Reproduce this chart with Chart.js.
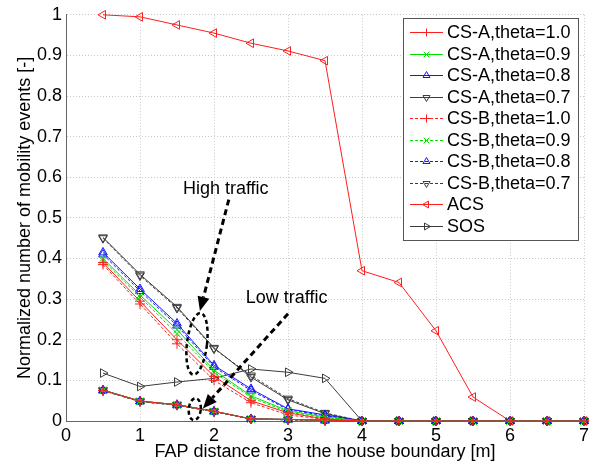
<!DOCTYPE html>
<html>
<head>
<meta charset="utf-8">
<script src="https://cdn.jsdelivr.net/npm/chart.js@4/dist/chart.umd.min.js"></script>
<style>
  html, body { margin: 0; padding: 0; background: #fff; }
  #wrap { width: 596px; height: 465px; }
</style>
</head>
<body>
<div id="wrap"><canvas id="myChart" width="596" height="465"></canvas></div>
<script>
// distances [m]
const distances = [0.5, 1, 1.5, 2, 2.5, 3, 3.5, 4, 4.5, 5, 5.5, 6, 6.5, 7];

// high traffic curves
const csA10 = [0.39, 0.295, 0.20, 0.11, 0.05, 0.02, 0.005, 0, 0, 0, 0, 0, 0, 0];
const csA09 = [0.40, 0.31, 0.225, 0.125, 0.062, 0.025, 0.01, 0, 0, 0, 0, 0, 0, 0];
const csA08 = [0.415, 0.325, 0.24, 0.137, 0.079, 0.03, 0.015, 0, 0, 0, 0, 0, 0, 0];
const csA07 = [0.452, 0.361, 0.281, 0.18, 0.108, 0.052, 0.018, 0, 0, 0, 0, 0, 0, 0];
const csB10 = [0.385, 0.288, 0.19, 0.10, 0.045, 0.015, 0.004, 0, 0, 0, 0, 0, 0, 0];
const csB09 = [0.395, 0.305, 0.215, 0.12, 0.058, 0.022, 0.008, 0, 0, 0, 0, 0, 0, 0];
const csB08 = [0.41, 0.32, 0.235, 0.133, 0.075, 0.028, 0.013, 0, 0, 0, 0, 0, 0, 0];
const csB07 = [0.45, 0.358, 0.278, 0.178, 0.112, 0.055, 0.02, 0, 0, 0, 0, 0, 0, 0];

// low traffic curves (all nearly on top of each other)
const lowA = [0.076, 0.049, 0.04, 0.024, 0.005, 0.004, 0.002, 0, 0, 0, 0, 0, 0, 0];
const lowB = [0.075, 0.048, 0.039, 0.023, 0.005, 0.003, 0.001, 0, 0, 0, 0, 0, 0, 0];

const acs = [1.0, 0.995, 0.975, 0.955, 0.93, 0.911, 0.887, 0.37, 0.341, 0.222, 0.059, 0, 0, 0];
const sos = [0.118, 0.085, 0.096, 0.105, 0.128, 0.12, 0.105, 0, 0, 0, 0, null, null, null];

const xTicks = [0, 1, 2, 3, 4, 5, 6, 7];

const RED = 'rgb(255,30,30)', GREEN = 'rgb(0,225,0)', BLUE = 'rgb(20,20,255)', BLACK = 'rgb(60,60,60)';

function pts(arr) {
  return distances.map((x, i) => ({ x: x, y: arr[i] }));
}

function series(label, arr, color, style, rot, dashed, legend) {
  return {
    label: label,
    data: pts(arr),
    borderColor: color,
    backgroundColor: 'rgba(0,0,0,0)',
    pointBorderColor: color,
    pointBackgroundColor: 'rgba(0,0,0,0)',
    borderWidth: 1,
    pointBorderWidth: 1,
    pointRadius: 5,
    pointStyle: style,
    pointRotation: rot,
    borderDash: dashed ? [3, 2] : [],
    showLine: true,
    clip: false,
    inLegend: legend
  };
}

const datasets = [
  series('CS-A,theta=1.0', csA10, RED, 'cross', 0, false, true),
  series('CS-A,theta=0.9', csA09, GREEN, 'crossRot', 0, false, true),
  series('CS-A,theta=0.8', csA08, BLUE, 'triangle', 0, false, true),
  series('CS-A,theta=0.7', csA07, BLACK, 'triangle', 180, false, true),
  series('CS-B,theta=1.0', csB10, RED, 'cross', 0, true, true),
  series('CS-B,theta=0.9', csB09, GREEN, 'crossRot', 0, true, true),
  series('CS-B,theta=0.8', csB08, BLUE, 'triangle', 0, true, true),
  series('CS-B,theta=0.7', csB07, BLACK, 'triangle', 180, true, true),
  series('ACS', acs, RED, 'triangle', -90, false, true),
  series('SOS', sos, BLACK, 'triangle', 90, false, true),
  // low traffic
  series('low CS-A,theta=1.0', lowA, RED, 'cross', 0, false, false),
  series('low CS-A,theta=0.9', lowA, GREEN, 'crossRot', 0, false, false),
  series('low CS-A,theta=0.8', lowA, BLUE, 'triangle', 0, false, false),
  series('low CS-B,theta=1.0', lowB, RED, 'cross', 0, true, false),
  series('low CS-B,theta=0.9', lowB, GREEN, 'crossRot', 0, true, false),
  series('low CS-B,theta=0.8', lowB, BLUE, 'triangle', 0, true, false),
  series('low CS-B,theta=0.7', lowB, BLACK, 'triangle', 180, true, false),
  series('low CS-A,theta=0.7', lowA, BLACK, 'triangle', 180, false, false)
];

// legend box drawn inside the plot, matlab style
const boxLegend = {
  id: 'boxLegend',
  afterDraw(chart) {
    const ctx = chart.ctx;
    const items = chart.data.datasets.filter(d => d.inLegend);
    const left = 403, top = 18, w = 175, rowH = 21.5;
    const h = items.length * rowH + 7;
    ctx.save();
    ctx.fillStyle = '#fff';
    ctx.fillRect(left, top, w, h);
    ctx.strokeStyle = '#555';
    ctx.lineWidth = 1;
    ctx.strokeRect(left + 0.5, top + 0.5, w, h);
    ctx.font = '18px "Liberation Sans", Arial, sans-serif';
    ctx.textBaseline = 'middle';
    items.forEach((d, i) => {
      const y = Math.round(top + 14 + i * rowH) + 0.5;
      ctx.strokeStyle = d.borderColor;
      ctx.lineWidth = 1;
      ctx.setLineDash(d.borderDash);
      ctx.beginPath();
      ctx.moveTo(left + 7, y);
      ctx.lineTo(left + 40, y);
      ctx.stroke();
      ctx.setLineDash([]);
      ctx.fillStyle = 'rgba(0,0,0,0)';
      Chart.helpers.drawPoint(ctx, {
        pointStyle: d.pointStyle, rotation: d.pointRotation, radius: 4, borderWidth: 1
      }, left + 23.5, y);
      ctx.fillStyle = '#000';
      ctx.fillText(d.label, left + 44, y + 1);
    });
    ctx.restore();
  }
};

// "High traffic" / "Low traffic" notes, placed in data units
const notes = {
  id: 'notes',
  afterDatasetsDraw(chart) {
    const ctx = chart.ctx;
    const sx = chart.scales.x, sy = chart.scales.y;
    const X = v => sx.getPixelForValue(v), Y = v => sy.getPixelForValue(v);
    ctx.save();
    ctx.fillStyle = '#000';
    ctx.font = '18px "Liberation Sans", Arial, sans-serif';
    ctx.textBaseline = 'alphabetic';
    ctx.fillText('High traffic', X(1.58), Y(0.56));
    ctx.fillText('Low traffic', X(2.43), Y(0.29));

    function arrow(x0, y0, x1, y1) {
      const a = Math.atan2(y1 - y0, x1 - x0);
      const head = 14;
      ctx.strokeStyle = '#000';
      ctx.lineWidth = 3;
      ctx.setLineDash([6, 4]);
      ctx.beginPath();
      ctx.moveTo(x0, y0);
      ctx.lineTo(x1 - head * Math.cos(a), y1 - head * Math.sin(a));
      ctx.stroke();
      ctx.setLineDash([]);
      ctx.beginPath();
      ctx.moveTo(x1, y1);
      ctx.lineTo(x1 - head * Math.cos(a) + 6 * Math.sin(a), y1 - head * Math.sin(a) - 6 * Math.cos(a));
      ctx.lineTo(x1 - head * Math.cos(a) - 6 * Math.sin(a), y1 - head * Math.sin(a) + 6 * Math.cos(a));
      ctx.closePath();
      ctx.fill();
    }
    function ring(cx, cy, rx, ry, rot) {
      ctx.strokeStyle = '#000';
      ctx.lineWidth = 2.5;
      ctx.setLineDash([4, 3]);
      ctx.beginPath();
      ctx.ellipse(cx, cy, rx, ry, rot, 0, Math.PI * 2);
      ctx.stroke();
      ctx.setLineDash([]);
    }
    arrow(X(2.2), Y(0.545), X(1.81), Y(0.271));
    ring(X(1.77), Y(0.19), 10, 31, 0.12);
    arrow(X(3.0), Y(0.264), X(1.85), Y(0.031));
    ring(X(1.74), Y(0.029), 6, 11, 0.1);
    ctx.restore();
  }
};

const FONT = { family: '"Liberation Sans", Arial, sans-serif', size: 18 };

new Chart(document.getElementById('myChart').getContext('2d'), {
  type: 'scatter',
  data: { datasets: datasets },
  options: {
    responsive: false,
    animation: false,
    layout: { padding: { left: 0, right: 12, top: 13, bottom: 0 } },
    plugins: {
      legend: { display: false },
      tooltip: { enabled: false }
    },
    scales: {
      x: {
        type: 'linear',
        min: 0, max: 7,
        afterFit(scale) { scale.height = 44; },
        afterBuildTicks(scale) { scale.ticks = xTicks.map(v => ({ value: v })); },
        ticks: { color: '#000', font: FONT, padding: 4, maxRotation: 0 },
        grid: { color: '#c8c8c8', drawTicks: false },
        border: { display: true, color: '#666', width: 1, dash: [1, 2] },
        title: {
          display: true, text: 'FAP distance from the house boundary [m]',
          color: '#000', font: FONT, padding: { top: 0, bottom: 2 }
        }
      },
      y: {
        type: 'linear',
        min: 0, max: 1,
        afterFit(scale) { scale.width = 66; },
        ticks: {
          stepSize: 0.1, color: '#000', font: FONT, padding: 4,
          callback: v => String(Number(v.toFixed(1)))
        },
        grid: { color: '#c8c8c8', drawTicks: false },
        border: { display: true, color: '#666', width: 1, dash: [1, 2] },
        title: {
          display: true, text: 'Normalized number of mobility events [-]',
          color: '#000', font: FONT, padding: { top: 14, bottom: 0 }
        }
      }
    }
  },
  plugins: [notes, boxLegend]
});
</script>
</body>
</html>
